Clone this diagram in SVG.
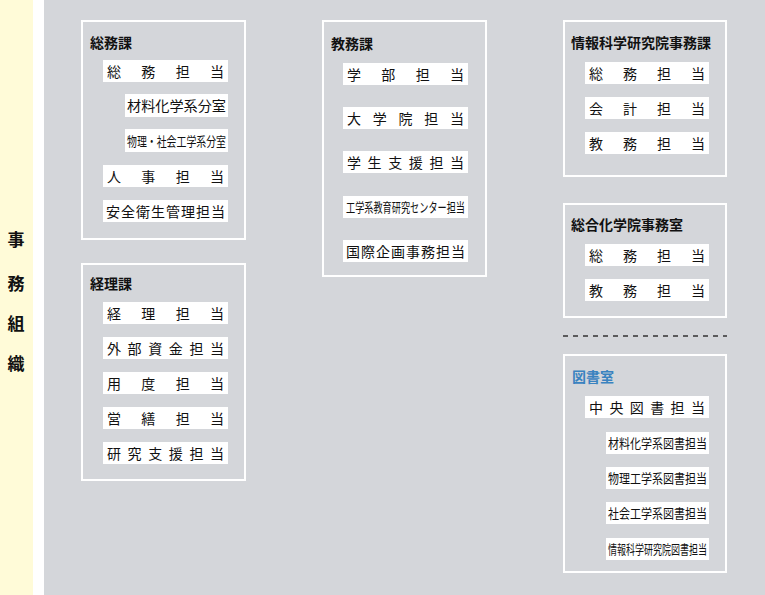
<svg xmlns="http://www.w3.org/2000/svg" width="765" height="595" viewBox="0 0 765 595">
<style>
text{font-family:"Noto Sans CJK JP","Noto Sans",sans-serif;fill:#111}
.box{fill:none;stroke:#fff;stroke-width:2}
.it{fill:#fff}
.t{font-size:14px}
.s{font-size:13px}
.h{font-size:14px;font-weight:bold}
</style>
<rect width="765" height="595" fill="#fff"/>
<rect x="0" y="0" width="33" height="595" fill="#fffbd8"/>
<rect x="44" y="0" width="721" height="595" fill="#d4d6da"/>
<g id="title"><text x="16" y="246" text-anchor="middle" class="h" style="font-size:17px">事</text><text x="16" y="290" text-anchor="middle" class="h" style="font-size:17px">務</text><text x="16" y="330" text-anchor="middle" class="h" style="font-size:17px">組</text><text x="16" y="370" text-anchor="middle" class="h" style="font-size:17px">織</text></g>
<g id="soumu"><rect class="box" x="82" y="21" width="163" height="218"/><text x="90" y="48" class="h">総務課</text>
<rect class="it" x="103" y="60" width="125" height="22"/><text x="107" y="77" class="t" textLength="117" lengthAdjust="spacing">総務担当</text>
<rect class="it" x="125" y="94" width="103" height="23"/><text x="127" y="111" class="t" textLength="99" lengthAdjust="spacingAndGlyphs">材料化学系分室</text>
<rect class="it" x="125" y="129" width="103" height="23"/><text x="127" y="146" class="s" textLength="99" lengthAdjust="spacingAndGlyphs">物理・社会工学系分室</text>
<rect class="it" x="103" y="165" width="125" height="22"/><text x="107" y="182" class="t" textLength="117" lengthAdjust="spacing">人事担当</text>
<rect class="it" x="103" y="200" width="125" height="22"/><text x="106" y="217" class="t" textLength="119" lengthAdjust="spacing">安全衛生管理担当</text></g>
<g id="keiri"><rect class="box" x="82" y="264" width="163" height="216"/><text x="90" y="289" class="h">経理課</text>
<rect class="it" x="103" y="302" width="125" height="22"/><text x="107" y="319" class="t" textLength="117" lengthAdjust="spacing">経理担当</text>
<rect class="it" x="103" y="337" width="125" height="22"/><text x="107" y="354" class="t" textLength="117" lengthAdjust="spacing">外部資金担当</text>
<rect class="it" x="103" y="372" width="125" height="22"/><text x="107" y="389" class="t" textLength="117" lengthAdjust="spacing">用度担当</text>
<rect class="it" x="103" y="407" width="125" height="22"/><text x="107" y="424" class="t" textLength="117" lengthAdjust="spacing">営繕担当</text>
<rect class="it" x="103" y="442" width="125" height="22"/><text x="107" y="459" class="t" textLength="117" lengthAdjust="spacing">研究支援担当</text></g>
<g id="kyoumu"><rect class="box" x="323" y="21" width="163" height="255"/><text x="331" y="49" class="h">教務課</text>
<rect class="it" x="343" y="63" width="125" height="22"/><text x="347" y="80" class="t" textLength="117" lengthAdjust="spacing">学部担当</text>
<rect class="it" x="343" y="107" width="125" height="22"/><text x="347" y="124" class="t" textLength="117" lengthAdjust="spacing">大学院担当</text>
<rect class="it" x="343" y="151" width="125" height="22"/><text x="347" y="168" class="t" textLength="117" lengthAdjust="spacing">学生支援担当</text>
<rect class="it" x="343" y="196" width="125" height="22"/><text x="346" y="212" class="s" textLength="119" lengthAdjust="spacingAndGlyphs">工学系教育研究センター担当</text>
<rect class="it" x="343" y="240" width="125" height="22"/><text x="346" y="257" class="t" textLength="119" lengthAdjust="spacing">国際企画事務担当</text></g>
<g id="jouhou"><rect class="box" x="564" y="21" width="162" height="155"/><text x="571" y="48" class="h">情報科学研究院事務課</text>
<rect class="it" x="585" y="62" width="124" height="22"/><text x="589" y="79" class="t" textLength="116" lengthAdjust="spacing">総務担当</text>
<rect class="it" x="585" y="97" width="124" height="22"/><text x="589" y="114" class="t" textLength="116" lengthAdjust="spacing">会計担当</text>
<rect class="it" x="585" y="132" width="124" height="22"/><text x="589" y="149" class="t" textLength="116" lengthAdjust="spacing">教務担当</text></g>
<g id="sougou"><rect class="box" x="564" y="204" width="162" height="113"/><text x="571" y="230" class="h">総合化学院事務室</text>
<rect class="it" x="585" y="244" width="124" height="22"/><text x="589" y="261" class="t" textLength="116" lengthAdjust="spacing">総務担当</text>
<rect class="it" x="585" y="279" width="124" height="22"/><text x="589" y="296" class="t" textLength="116" lengthAdjust="spacing">教務担当</text></g>
<g id="connectors"><line x1="563" y1="336" x2="727" y2="336" stroke="#333" stroke-width="1.5" stroke-dasharray="5,5"/></g>
<g id="tosho"><rect class="box" x="564" y="355" width="162" height="217"/><text x="572" y="382" class="h" style="fill:#3a83c0">図書室</text>
<rect class="it" x="585" y="396" width="124" height="22"/><text x="589" y="413" class="t" textLength="116" lengthAdjust="spacing">中央図書担当</text>
<rect class="it" x="606" y="432" width="103" height="22"/><text x="608" y="448" class="s" textLength="99" lengthAdjust="spacingAndGlyphs">材料化学系図書担当</text>
<rect class="it" x="606" y="467" width="103" height="22"/><text x="608" y="483" class="s" textLength="99" lengthAdjust="spacingAndGlyphs">物理工学系図書担当</text>
<rect class="it" x="606" y="502" width="103" height="22"/><text x="608" y="518" class="s" textLength="99" lengthAdjust="spacingAndGlyphs">社会工学系図書担当</text>
<rect class="it" x="606" y="538" width="103" height="22"/><text x="608" y="554" class="s" textLength="99" lengthAdjust="spacingAndGlyphs">情報科学研究院図書担当</text></g>
</svg>
